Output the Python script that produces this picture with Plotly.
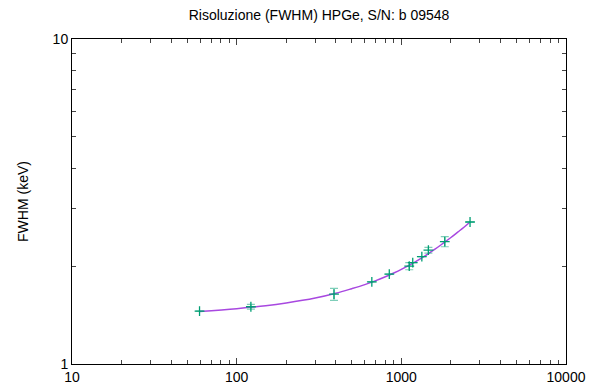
import plotly.graph_objects as go

# measured points
energy_kev = [59.5, 122, 390, 662, 845, 1117, 1173, 1332, 1460, 1836, 2614]
fwhm_kev = [1.455, 1.50, 1.64, 1.79, 1.89, 2.00, 2.05, 2.14, 2.24, 2.38, 2.735]
fwhm_err = [0.0, 0.025, 0.07, 0.0, 0.0, 0.05, 0.0, 0.0, 0.045, 0.085, 0.0]

# fit curve
fit_energy = [59.5, 100, 150, 200, 300, 400, 500, 600, 700, 800, 900, 1000, 1200, 1400, 1600, 1800, 2000, 2200, 2400, 2614]
fit_fwhm = [1.45, 1.48, 1.51, 1.54, 1.595, 1.65, 1.705, 1.755, 1.805, 1.855, 1.905, 1.955, 2.055, 2.155, 2.255, 2.355, 2.45, 2.545, 2.635, 2.735]

x_ticks = [10, 100, 1000, 10000]
x_ticktext = ["10", "100", "1000", "10000"]
y_ticks = [1, 10]
y_ticktext = ["1", "10"]

title_text = "Risoluzione (FWHM) HPGe, S/N: b 09548"
y_title = "FWHM (keV)"

fig = go.Figure()
fig.add_trace(go.Scatter(
    x=fit_energy, y=fit_fwhm, mode="lines", line=dict(color="#a848e0", width=1.5, shape="spline"),
    showlegend=False, hoverinfo="skip"))
fig.add_trace(go.Scatter(
    x=energy_kev, y=fwhm_kev, mode="markers",
    marker=dict(symbol="cross-thin", size=7, line=dict(color="#009e73", width=1.3)),
    error_y=dict(type="data", array=fwhm_err, visible=True, color="rgba(0,158,115,0.5)", thickness=1.2, width=4),
    showlegend=False))

axis_common = dict(
    type="log", showgrid=False, zeroline=False, showline=True, linecolor="black", linewidth=1,
    mirror="ticks", ticks="inside", ticklen=6, tickcolor="#444", tickwidth=1, automargin=False,
    tickfont=dict(family="Liberation Sans, Arial, sans-serif", size=14, color="black"),
    minor=dict(ticks="inside", ticklen=4, tickcolor="#444", dtick="D1"),
)

fig.update_layout(
    width=589, height=387,
    margin=dict(l=72, r=23, t=39, b=23),
    paper_bgcolor="white", plot_bgcolor="white",
    title=dict(text=title_text, x=(72 + 566) / 2 / 589, xanchor="center", y=1 - 15 / 387, yanchor="middle",
               font=dict(family="Liberation Sans, Arial, sans-serif", size=14, color="black")),
    xaxis=dict(axis_common, range=[1, 4], tickvals=x_ticks, ticktext=x_ticktext),
    yaxis=dict(axis_common, range=[0, 1], tickvals=y_ticks, ticktext=y_ticktext,
               title=dict(text=y_title, standoff=20,
                          font=dict(family="Liberation Sans, Arial, sans-serif", size=14, color="black"))),
)

fig.write_html("out.html")
